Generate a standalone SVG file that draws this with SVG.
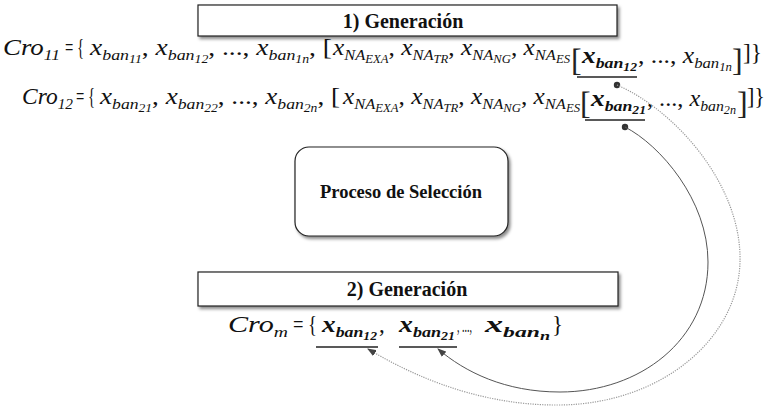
<svg xmlns="http://www.w3.org/2000/svg" width="767" height="416" viewBox="0 0 767 416">
<style>
.box{fill:#fff;stroke:#222;stroke-width:1.2}
.hd{font-family:"Liberation Serif",serif;font-weight:700;font-size:20px;fill:#111;text-anchor:middle}
.m{font-family:"Liberation Serif",serif;font-style:italic;font-size:23px;fill:#111}
.s{font-size:15px}
.ss{font-size:11.5px}
.up{font-style:normal}
.b{font-weight:bold}
.br{font-family:"Liberation Serif",serif;font-size:32px;fill:#222;font-weight:normal;font-style:normal}
.ul{stroke:#222;stroke-width:1.6}
.dot{fill:#333}
.c1{fill:none;stroke:#999;stroke-width:1.2;stroke-dasharray:1.2 1.2}
.c2{fill:none;stroke:#555;stroke-width:1}
</style>
<defs>
<filter id="sh" x="-10%" y="-20%" width="130%" height="160%">
<feDropShadow dx="2" dy="2.5" stdDeviation="1.5" flood-color="#000" flood-opacity="0.45"/>
</filter>
<marker id="ah" markerUnits="userSpaceOnUse" markerWidth="9" markerHeight="7" refX="8" refY="3.5" orient="auto">
<path d="M0,0 L9,3.5 L0,7 z" fill="#444"/>
</marker>
</defs>

<g id="gen1">
<rect class="box" x="198" y="5" width="419" height="31" filter="url(#sh)"/>
<text class="hd" x="403" y="28">1) Generación</text>
</g>

<g id="cro11">
<text class="m" x="3" y="55" textLength="57" lengthAdjust="spacingAndGlyphs">Cro<tspan class="s" dy="5">11</tspan></text>
<text class="m up" x="65" y="55" textLength="19" lengthAdjust="spacingAndGlyphs">= {</text>
<text class="m" x="90" y="55" textLength="242" lengthAdjust="spacingAndGlyphs">x<tspan class="s" dy="5">ban</tspan><tspan class="ss" dy="3">11</tspan><tspan class="up" dy="-8">, </tspan>x<tspan class="s" dy="5">ban</tspan><tspan class="ss" dy="3">12</tspan><tspan class="up" dy="-8">, ..., </tspan>x<tspan class="s" dy="5">ban</tspan><tspan class="ss" dy="3">1n</tspan><tspan class="up" dy="-8">, [</tspan></text>
<text class="m" x="333" y="55" textLength="237" lengthAdjust="spacingAndGlyphs">x<tspan class="s" dy="5">NA</tspan><tspan class="ss" dy="3">EXA</tspan><tspan class="up" dy="-8">, </tspan>x<tspan class="s" dy="5">NA</tspan><tspan class="ss" dy="3">TR</tspan><tspan class="up" dy="-8">, </tspan>x<tspan class="s" dy="5">NA</tspan><tspan class="ss" dy="3">NG</tspan><tspan class="up" dy="-8">, </tspan>x<tspan class="s" dy="5">NA</tspan><tspan class="ss" dy="3">ES</tspan></text>
<text class="br" x="571" y="71">[</text>
<text class="m b" x="582" y="63" textLength="55" lengthAdjust="spacingAndGlyphs">x<tspan class="s" dy="5">ban</tspan><tspan class="ss" dy="3">12</tspan></text>
<text class="m" x="638" y="63" textLength="94" lengthAdjust="spacingAndGlyphs"><tspan class="up">, ..., </tspan>x<tspan class="s" dy="5">ban</tspan><tspan class="ss" dy="3">1n</tspan></text>
<text class="br" x="732" y="71">]</text>
<text class="m up" x="743" y="60" textLength="19" lengthAdjust="spacingAndGlyphs">]}</text>
<line class="ul" x1="577" y1="77" x2="637" y2="77"/>
</g>

<g id="cro12">
<text class="m" x="22" y="104" textLength="51" lengthAdjust="spacingAndGlyphs">Cro<tspan class="s" dy="5">12</tspan></text>
<text class="m up" x="76" y="104" textLength="19" lengthAdjust="spacingAndGlyphs">= {</text>
<text class="m" x="100" y="104" textLength="240" lengthAdjust="spacingAndGlyphs">x<tspan class="s" dy="5">ban</tspan><tspan class="ss" dy="3">21</tspan><tspan class="up" dy="-8">, </tspan>x<tspan class="s" dy="5">ban</tspan><tspan class="ss" dy="3">22</tspan><tspan class="up" dy="-8">, ..., </tspan>x<tspan class="s" dy="5">ban</tspan><tspan class="ss" dy="3">2n</tspan><tspan class="up" dy="-8">, [</tspan></text>
<text class="m" x="343" y="104" textLength="237" lengthAdjust="spacingAndGlyphs">x<tspan class="s" dy="5">NA</tspan><tspan class="ss" dy="3">EXA</tspan><tspan class="up" dy="-8">, </tspan>x<tspan class="s" dy="5">NA</tspan><tspan class="ss" dy="3">TR</tspan><tspan class="up" dy="-8">, </tspan>x<tspan class="s" dy="5">NA</tspan><tspan class="ss" dy="3">NG</tspan><tspan class="up" dy="-8">, </tspan>x<tspan class="s" dy="5">NA</tspan><tspan class="ss" dy="3">ES</tspan></text>
<text class="br" x="580" y="114">[</text>
<text class="m b" x="591" y="106" textLength="55" lengthAdjust="spacingAndGlyphs">x<tspan class="s" dy="5">ban</tspan><tspan class="ss" dy="3">21</tspan></text>
<text class="m" x="647" y="106" textLength="89" lengthAdjust="spacingAndGlyphs"><tspan class="up">, ..., </tspan>x<tspan class="s" dy="5">ban</tspan><tspan class="ss" dy="3">2n</tspan></text>
<text class="br" x="737" y="114">]</text>
<text class="m up" x="747" y="104" textLength="18" lengthAdjust="spacingAndGlyphs">]}</text>
<line class="ul" x1="585" y1="120" x2="645" y2="120"/>
</g>

<g id="seleccion">
<rect class="box" x="295" y="147" width="213" height="89" rx="14" ry="14" filter="url(#sh)"/>
<text class="hd" x="401" y="198" style="font-size:18.5px">Proceso de Selección</text>
</g>

<g id="gen2">
<rect class="box" x="198" y="272" width="420" height="34" filter="url(#sh)"/>
<text class="hd" x="407" y="296">2) Generación</text>
</g>

<g id="crom">
<text class="m" x="228" y="332" textLength="60" lengthAdjust="spacingAndGlyphs">Cro<tspan class="s" dy="5">m</tspan></text>
<text class="m up" x="293" y="332" textLength="24" lengthAdjust="spacingAndGlyphs">= {</text>
<text class="m b" x="322" y="332" textLength="55" lengthAdjust="spacingAndGlyphs">x<tspan class="s" dy="5">ban</tspan><tspan class="ss" dy="3">12</tspan></text>
<text class="m up" x="379" y="332">,</text>
<text class="m b" x="399" y="332" textLength="56" lengthAdjust="spacingAndGlyphs">x<tspan class="s" dy="5">ban</tspan><tspan class="ss" dy="3">21</tspan></text>
<text class="m up" x="457" y="332" textLength="15" lengthAdjust="spacingAndGlyphs" style="font-size:18px">, ...,</text>
<text class="m b" x="485" y="332" textLength="65" lengthAdjust="spacingAndGlyphs">x<tspan class="s" dy="5">ban</tspan><tspan class="ss" dy="3">n</tspan></text>
<text class="m up" x="552" y="332">}</text>
<line class="ul" x1="316" y1="347" x2="378" y2="347"/>
<line class="ul" x1="399" y1="347" x2="457" y2="347"/>
</g>

<g id="connectors">
<circle class="dot" cx="617" cy="85" r="3.2"/>
<circle class="dot" cx="625" cy="127" r="3.2"/>
<path class="c1" d="M617,85 C675,110 742,185 740,262 C738,340 660,404 560,405 C470,406 400,368 368,349" marker-end="url(#ah)"/>
<path class="c2" d="M625,127 C660,145 708,200 708,262 C708,340 640,392 560,392 C505,392 465,372 438,349" marker-end="url(#ah)"/>
</g>
</svg>
